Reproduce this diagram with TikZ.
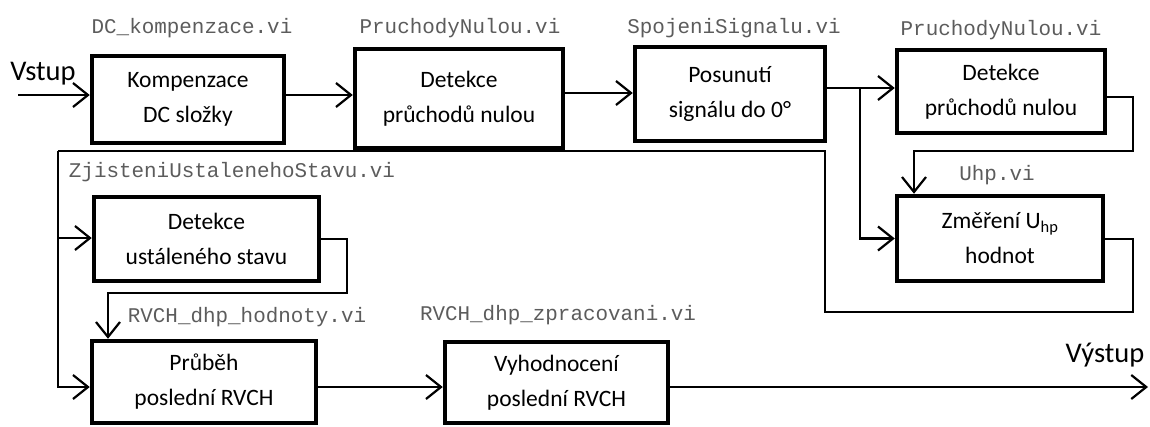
\documentclass[tikz,border=0pt]{standalone}
\usepackage{fontspec}
\setmainfont{Carlito}
\setmonofont{Liberation Mono}
\usetikzlibrary{arrows.meta}
\definecolor{lblgray}{RGB}{92,92,92}
\begin{document}
\begin{tikzpicture}[x=1pt,y=-1pt,
  blk/.style={draw=black, line width=4.5pt, fill=white, align=center, inner sep=0pt,
    font=\fontsize{23.5}{35}\selectfont},
  vilabel/.style={font=\fontsize{20.9}{22}\ttfamily, text=lblgray, inner sep=0pt},
  io/.style={font=\fontsize{28.5}{30}\selectfont, inner sep=0pt},
  arr/.style={line width=2.2pt, -{Straight Barb[length=15pt,width=24pt,line width=2.2pt]}},
  ln/.style={line width=2pt}
]
\useasboundingbox (0,0) rectangle (1150,426);

% boxes
\node[blk, minimum width=192pt, minimum height=87pt] (b1) at (188,99.5) {Kompenzace\\DC složky};
\node[blk, minimum width=208pt, minimum height=99pt] (b2) at (459,98.5) {Detekce\\průchodů nulou};
\node[blk, minimum width=190pt, minimum height=94pt] (b3) at (730,94) {Posunutí\\signálu do 0°};
\node[blk, minimum width=208pt, minimum height=83pt] (b4) at (1001,91.5) {Detekce\\průchodů nulou};
\node[blk, minimum width=206pt, minimum height=85pt] (b5) at (1000,238.5) {Změření U\textsubscript{hp}\\hodnot};
\node[blk, minimum width=225pt, minimum height=84pt] (b6) at (206.5,239) {Detekce\\ustáleného stavu};
\node[blk, minimum width=224pt, minimum height=82pt] (b7) at (204,382) {Průběh\\poslední RVCH};
\node[blk, minimum width=223pt, minimum height=81pt] (b8) at (556.5,382.5) {Vyhodnocení\\poslední RVCH};

% labels
\node[vilabel] (l1) at (192,28) {DC\_kompenzace.vi};
\node[vilabel] (l2) at (460,28) {PruchodyNulou.vi};
\node[vilabel] (l3) at (734,28) {SpojeniSignalu.vi};
\node[vilabel] (l4) at (1001,30) {PruchodyNulou.vi};
\node[vilabel] (l5) at (997,175) {Uhp.vi};
\node[vilabel] (l6) at (232,172) {ZjisteniUstalenehoStavu.vi};
\node[vilabel] (l7) at (247,317) {RVCH\_dhp\_hodnoty.vi};
\node[vilabel] (l8) at (558,315) {RVCH\_dhp\_zpracovani.vi};

\node[io] (vstup) at (43,74) {Vstup};
\node[io] (vystup) at (1105,355) {Výstup};

% coordinates
\coordinate (in) at (18,95);
\coordinate (j1) at (860,88);
\coordinate (c1) at (1133,151);
\coordinate (c2) at (1133,312);
\coordinate (c3) at (825,312);
\coordinate (c4) at (825,151);
\coordinate (c5) at (58,151);
\coordinate (j2) at (58,238);
\coordinate (c6) at (347,293);
\coordinate (out) at (1148,387);

% connectors
\draw[arr] (in) -- (in -| b1.west);
\draw[arr] (b1.east |- in) -- (b2.west |- in);
\draw[arr] ([yshift=5.5pt]b2.east) -- ([yshift=5.5pt]b2.east -| b3.west);
\draw[arr] (b3.east |- j1) -- (b4.west |- j1);
\draw[arr] (j1) |- (b5.west);
\draw[arr] ([yshift=-5.5pt]b4.east) -| (c1) -| ([xshift=-86pt]b5.north);
\draw[ln] (b5.east) -| (c2) -- (c3) -- (c4) -- (c5);
\draw[arr] (c5) |- ([yshift=-5pt]b7.west);
\draw[arr] (j2) -- (j2 -| b6.west);
\draw[arr] (b6.east) -| (c6) -| ([xshift=-96pt]b7.north);
\draw[arr] ([yshift=-5pt]b7.east) -- ([yshift=-5pt]b7.east -| b8.west);
\draw[arr] (b8.east |- out) -- (out);
\end{tikzpicture}
\end{document}
